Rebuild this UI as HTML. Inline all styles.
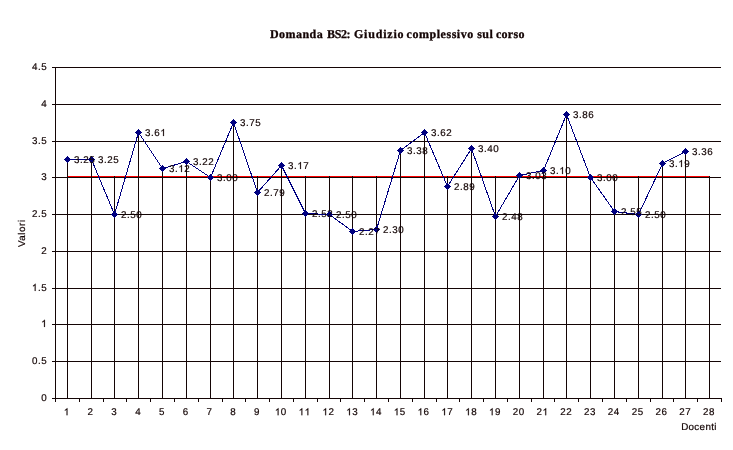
<!DOCTYPE html><html><head><meta charset="utf-8"><title>chart</title>
<style>html,body{margin:0;padding:0;background:#fff;}svg{display:block;}text{font-family:"Liberation Sans",sans-serif;text-rendering:geometricPrecision;font-size:9.8px;letter-spacing:0.55px;fill:#140505;stroke:#140505;stroke-width:0.2px;}.t{font-family:"Liberation Serif",serif;font-weight:bold;font-size:12px;stroke:#140505;stroke-width:0.3px;}</style></head><body>
<svg width="733" height="450" viewBox="0 0 733 450">
<rect width="733" height="450" fill="#fff"/>
<g shape-rendering="crispEdges" stroke="#140505" stroke-width="1" fill="none">
<line x1="52" y1="398.5" x2="721" y2="398.5"/>
<line x1="52" y1="361.5" x2="721" y2="361.5"/>
<line x1="52" y1="324.5" x2="721" y2="324.5"/>
<line x1="52" y1="288.5" x2="721" y2="288.5"/>
<line x1="52" y1="251.5" x2="721" y2="251.5"/>
<line x1="52" y1="214.5" x2="721" y2="214.5"/>
<line x1="52" y1="177.5" x2="721" y2="177.5"/>
<line x1="52" y1="141.5" x2="721" y2="141.5"/>
<line x1="52" y1="104.5" x2="721" y2="104.5"/>
<line x1="52" y1="67.5" x2="721" y2="67.5"/>
<line x1="55.5" y1="67" x2="55.5" y2="399"/>
<line x1="55.5" y1="398" x2="55.5" y2="402"/>
<line x1="79.5" y1="398" x2="79.5" y2="402"/>
<line x1="103.5" y1="398" x2="103.5" y2="402"/>
<line x1="126.5" y1="398" x2="126.5" y2="402"/>
<line x1="150.5" y1="398" x2="150.5" y2="402"/>
<line x1="174.5" y1="398" x2="174.5" y2="402"/>
<line x1="198.5" y1="398" x2="198.5" y2="402"/>
<line x1="222.5" y1="398" x2="222.5" y2="402"/>
<line x1="245.5" y1="398" x2="245.5" y2="402"/>
<line x1="269.5" y1="398" x2="269.5" y2="402"/>
<line x1="293.5" y1="398" x2="293.5" y2="402"/>
<line x1="317.5" y1="398" x2="317.5" y2="402"/>
<line x1="340.5" y1="398" x2="340.5" y2="402"/>
<line x1="364.5" y1="398" x2="364.5" y2="402"/>
<line x1="388.5" y1="398" x2="388.5" y2="402"/>
<line x1="412.5" y1="398" x2="412.5" y2="402"/>
<line x1="436.5" y1="398" x2="436.5" y2="402"/>
<line x1="459.5" y1="398" x2="459.5" y2="402"/>
<line x1="483.5" y1="398" x2="483.5" y2="402"/>
<line x1="507.5" y1="398" x2="507.5" y2="402"/>
<line x1="531.5" y1="398" x2="531.5" y2="402"/>
<line x1="554.5" y1="398" x2="554.5" y2="402"/>
<line x1="578.5" y1="398" x2="578.5" y2="402"/>
<line x1="602.5" y1="398" x2="602.5" y2="402"/>
<line x1="626.5" y1="398" x2="626.5" y2="402"/>
<line x1="650.5" y1="398" x2="650.5" y2="402"/>
<line x1="673.5" y1="398" x2="673.5" y2="402"/>
<line x1="697.5" y1="398" x2="697.5" y2="402"/>
<line x1="721.5" y1="398" x2="721.5" y2="402"/>
<line x1="67" y1="176.5" x2="710" y2="176.5" stroke="#ff0000"/>
<line x1="67.5" y1="159.5" x2="67.5" y2="398"/>
<line x1="91.5" y1="159.5" x2="91.5" y2="398"/>
<line x1="114.5" y1="176.0" x2="114.5" y2="398"/>
<line x1="138.5" y1="132.5" x2="138.5" y2="398"/>
<line x1="162.5" y1="168.5" x2="162.5" y2="398"/>
<line x1="186.5" y1="161.5" x2="186.5" y2="398"/>
<line x1="210.5" y1="176.0" x2="210.5" y2="398"/>
<line x1="233.5" y1="122.5" x2="233.5" y2="398"/>
<line x1="257.5" y1="176.0" x2="257.5" y2="398"/>
<line x1="281.5" y1="165.5" x2="281.5" y2="398"/>
<line x1="305.5" y1="176.0" x2="305.5" y2="398"/>
<line x1="329.5" y1="176.0" x2="329.5" y2="398"/>
<line x1="352.5" y1="176.0" x2="352.5" y2="398"/>
<line x1="376.5" y1="176.0" x2="376.5" y2="398"/>
<line x1="400.5" y1="150.5" x2="400.5" y2="398"/>
<line x1="424.5" y1="132.5" x2="424.5" y2="398"/>
<line x1="447.5" y1="176.0" x2="447.5" y2="398"/>
<line x1="471.5" y1="148.5" x2="471.5" y2="398"/>
<line x1="495.5" y1="176.0" x2="495.5" y2="398"/>
<line x1="519.5" y1="175.5" x2="519.5" y2="398"/>
<line x1="543.5" y1="170.5" x2="543.5" y2="398"/>
<line x1="566.5" y1="114.5" x2="566.5" y2="398"/>
<line x1="590.5" y1="176.0" x2="590.5" y2="398"/>
<line x1="614.5" y1="176.0" x2="614.5" y2="398"/>
<line x1="638.5" y1="176.0" x2="638.5" y2="398"/>
<line x1="662.5" y1="163.5" x2="662.5" y2="398"/>
<line x1="685.5" y1="151.5" x2="685.5" y2="398"/>
<line x1="709.5" y1="176.0" x2="709.5" y2="398"/>
</g>
<polyline shape-rendering="crispEdges" points="67.5,159.5 91.5,159.5 114.5,214.5 138.5,132.5 162.5,168.5 186.5,161.5 210.5,177.5 233.5,122.5 257.5,192.5 281.5,165.5 305.5,213.5 329.5,214.5 352.5,231.5 376.5,229.5 400.5,150.5 424.5,132.5 447.5,186.5 471.5,148.5 495.5,216.5 519.5,175.5 543.5,170.5 566.5,114.5 590.5,177.5 614.5,211.5 638.5,214.5 662.5,163.5 685.5,151.5" fill="none" stroke="#000080" stroke-width="1"/>
<path shape-rendering="crispEdges" d="M67.5 156.0 l3.5 3.5 l-3.5 3.5 l-3.5 -3.5 z" fill="#000080"/>
<path shape-rendering="crispEdges" d="M91.5 156.0 l3.5 3.5 l-3.5 3.5 l-3.5 -3.5 z" fill="#000080"/>
<path shape-rendering="crispEdges" d="M114.5 211.0 l3.5 3.5 l-3.5 3.5 l-3.5 -3.5 z" fill="#000080"/>
<path shape-rendering="crispEdges" d="M138.5 129.0 l3.5 3.5 l-3.5 3.5 l-3.5 -3.5 z" fill="#000080"/>
<path shape-rendering="crispEdges" d="M162.5 165.0 l3.5 3.5 l-3.5 3.5 l-3.5 -3.5 z" fill="#000080"/>
<path shape-rendering="crispEdges" d="M186.5 158.0 l3.5 3.5 l-3.5 3.5 l-3.5 -3.5 z" fill="#000080"/>
<path shape-rendering="crispEdges" d="M210.5 174.0 l3.5 3.5 l-3.5 3.5 l-3.5 -3.5 z" fill="#000080"/>
<path shape-rendering="crispEdges" d="M233.5 119.0 l3.5 3.5 l-3.5 3.5 l-3.5 -3.5 z" fill="#000080"/>
<path shape-rendering="crispEdges" d="M257.5 189.0 l3.5 3.5 l-3.5 3.5 l-3.5 -3.5 z" fill="#000080"/>
<path shape-rendering="crispEdges" d="M281.5 162.0 l3.5 3.5 l-3.5 3.5 l-3.5 -3.5 z" fill="#000080"/>
<path shape-rendering="crispEdges" d="M305.5 210.0 l3.5 3.5 l-3.5 3.5 l-3.5 -3.5 z" fill="#000080"/>
<path shape-rendering="crispEdges" d="M329.5 211.0 l3.5 3.5 l-3.5 3.5 l-3.5 -3.5 z" fill="#000080"/>
<path shape-rendering="crispEdges" d="M352.5 228.0 l3.5 3.5 l-3.5 3.5 l-3.5 -3.5 z" fill="#000080"/>
<path shape-rendering="crispEdges" d="M376.5 226.0 l3.5 3.5 l-3.5 3.5 l-3.5 -3.5 z" fill="#000080"/>
<path shape-rendering="crispEdges" d="M400.5 147.0 l3.5 3.5 l-3.5 3.5 l-3.5 -3.5 z" fill="#000080"/>
<path shape-rendering="crispEdges" d="M424.5 129.0 l3.5 3.5 l-3.5 3.5 l-3.5 -3.5 z" fill="#000080"/>
<path shape-rendering="crispEdges" d="M447.5 183.0 l3.5 3.5 l-3.5 3.5 l-3.5 -3.5 z" fill="#000080"/>
<path shape-rendering="crispEdges" d="M471.5 145.0 l3.5 3.5 l-3.5 3.5 l-3.5 -3.5 z" fill="#000080"/>
<path shape-rendering="crispEdges" d="M495.5 213.0 l3.5 3.5 l-3.5 3.5 l-3.5 -3.5 z" fill="#000080"/>
<path shape-rendering="crispEdges" d="M519.5 172.0 l3.5 3.5 l-3.5 3.5 l-3.5 -3.5 z" fill="#000080"/>
<path shape-rendering="crispEdges" d="M543.5 167.0 l3.5 3.5 l-3.5 3.5 l-3.5 -3.5 z" fill="#000080"/>
<path shape-rendering="crispEdges" d="M566.5 111.0 l3.5 3.5 l-3.5 3.5 l-3.5 -3.5 z" fill="#000080"/>
<path shape-rendering="crispEdges" d="M590.5 174.0 l3.5 3.5 l-3.5 3.5 l-3.5 -3.5 z" fill="#000080"/>
<path shape-rendering="crispEdges" d="M614.5 208.0 l3.5 3.5 l-3.5 3.5 l-3.5 -3.5 z" fill="#000080"/>
<path shape-rendering="crispEdges" d="M638.5 211.0 l3.5 3.5 l-3.5 3.5 l-3.5 -3.5 z" fill="#000080"/>
<path shape-rendering="crispEdges" d="M662.5 160.0 l3.5 3.5 l-3.5 3.5 l-3.5 -3.5 z" fill="#000080"/>
<path shape-rendering="crispEdges" d="M685.5 148.0 l3.5 3.5 l-3.5 3.5 l-3.5 -3.5 z" fill="#000080"/>
<g opacity="0.999">
<text x="74.00" y="163.0">3.25</text>
<text x="98.00" y="163.0">3.25</text>
<text x="121.00" y="218.0">2.50</text>
<text x="145.00" y="136.0">3.6</text><path transform="translate(160.27,136.0) scale(0.00479,-0.00479)" d="M763 0H583V1147Q518 1085 412.5 1023Q307 961 223 930V1104Q374 1175 487 1276Q600 1377 647 1472H763Z" fill="#140505" stroke="#140505" stroke-width="42"/>
<text x="169.00" y="172.0">3.</text><path transform="translate(178.27,172.0) scale(0.00479,-0.00479)" d="M763 0H583V1147Q518 1085 412.5 1023Q307 961 223 930V1104Q374 1175 487 1276Q600 1377 647 1472H763Z" fill="#140505" stroke="#140505" stroke-width="42"/><text x="184.27" y="172.0">2</text>
<text x="193.00" y="165.0">3.22</text>
<text x="217.00" y="181.0">3.00</text>
<text x="240.00" y="126.0">3.75</text>
<text x="264.00" y="196.0">2.79</text>
<text x="288.00" y="169.0">3.</text><path transform="translate(297.27,169.0) scale(0.00479,-0.00479)" d="M763 0H583V1147Q518 1085 412.5 1023Q307 961 223 930V1104Q374 1175 487 1276Q600 1377 647 1472H763Z" fill="#140505" stroke="#140505" stroke-width="42"/><text x="303.27" y="169.0">7</text>
<text x="312.00" y="217.0">2.52</text>
<text x="336.00" y="218.0">2.50</text>
<text x="359.00" y="235.0">2.27</text>
<text x="383.00" y="233.0">2.30</text>
<text x="407.00" y="154.0">3.38</text>
<text x="431.00" y="136.0">3.62</text>
<text x="454.00" y="190.0">2.89</text>
<text x="478.00" y="152.0">3.40</text>
<text x="502.00" y="220.0">2.48</text>
<text x="526.00" y="179.0">3.03</text>
<text x="550.00" y="174.0">3.</text><path transform="translate(559.27,174.0) scale(0.00479,-0.00479)" d="M763 0H583V1147Q518 1085 412.5 1023Q307 961 223 930V1104Q374 1175 487 1276Q600 1377 647 1472H763Z" fill="#140505" stroke="#140505" stroke-width="42"/><text x="565.27" y="174.0">0</text>
<text x="573.00" y="118.0">3.86</text>
<text x="597.00" y="181.0">3.00</text>
<text x="621.00" y="215.0">2.55</text>
<text x="645.00" y="218.0">2.50</text>
<text x="669.00" y="167.0">3.</text><path transform="translate(678.27,167.0) scale(0.00479,-0.00479)" d="M763 0H583V1147Q518 1085 412.5 1023Q307 961 223 930V1104Q374 1175 487 1276Q600 1377 647 1472H763Z" fill="#140505" stroke="#140505" stroke-width="42"/><text x="684.27" y="167.0">9</text>
<text x="692.00" y="155.0">3.36</text>
<text x="41.20" y="400.9">0</text>
<text x="31.93" y="363.9">0.5</text>
<path transform="translate(41.20,326.9) scale(0.00479,-0.00479)" d="M763 0H583V1147Q518 1085 412.5 1023Q307 961 223 930V1104Q374 1175 487 1276Q600 1377 647 1472H763Z" fill="#140505" stroke="#140505" stroke-width="42"/>
<path transform="translate(31.93,290.9) scale(0.00479,-0.00479)" d="M763 0H583V1147Q518 1085 412.5 1023Q307 961 223 930V1104Q374 1175 487 1276Q600 1377 647 1472H763Z" fill="#140505" stroke="#140505" stroke-width="42"/><text x="37.93" y="290.9">.5</text>
<text x="41.20" y="253.9">2</text>
<text x="31.93" y="216.9">2.5</text>
<text x="41.20" y="179.9">3</text>
<text x="31.93" y="143.9">3.5</text>
<text x="41.20" y="106.9">4</text>
<text x="31.93" y="69.9">4.5</text>
<path transform="translate(63.79,415.2) scale(0.00479,-0.00479)" d="M763 0H583V1147Q518 1085 412.5 1023Q307 961 223 930V1104Q374 1175 487 1276Q600 1377 647 1472H763Z" fill="#140505" stroke="#140505" stroke-width="42"/>
<text x="87.58" y="415.2">2</text>
<text x="111.36" y="415.2">3</text>
<text x="135.15" y="415.2">4</text>
<text x="158.94" y="415.2">5</text>
<text x="182.72" y="415.2">6</text>
<text x="206.51" y="415.2">7</text>
<text x="230.29" y="415.2">8</text>
<text x="254.08" y="415.2">9</text>
<path transform="translate(274.87,415.2) scale(0.00479,-0.00479)" d="M763 0H583V1147Q518 1085 412.5 1023Q307 961 223 930V1104Q374 1175 487 1276Q600 1377 647 1472H763Z" fill="#140505" stroke="#140505" stroke-width="42"/><text x="280.86" y="415.2">0</text>
<path transform="translate(298.65,415.2) scale(0.00479,-0.00479)" d="M763 0H583V1147Q518 1085 412.5 1023Q307 961 223 930V1104Q374 1175 487 1276Q600 1377 647 1472H763Z" fill="#140505" stroke="#140505" stroke-width="42"/><path transform="translate(304.65,415.2) scale(0.00479,-0.00479)" d="M763 0H583V1147Q518 1085 412.5 1023Q307 961 223 930V1104Q374 1175 487 1276Q600 1377 647 1472H763Z" fill="#140505" stroke="#140505" stroke-width="42"/>
<path transform="translate(322.44,415.2) scale(0.00479,-0.00479)" d="M763 0H583V1147Q518 1085 412.5 1023Q307 961 223 930V1104Q374 1175 487 1276Q600 1377 647 1472H763Z" fill="#140505" stroke="#140505" stroke-width="42"/><text x="328.44" y="415.2">2</text>
<path transform="translate(346.22,415.2) scale(0.00479,-0.00479)" d="M763 0H583V1147Q518 1085 412.5 1023Q307 961 223 930V1104Q374 1175 487 1276Q600 1377 647 1472H763Z" fill="#140505" stroke="#140505" stroke-width="42"/><text x="352.22" y="415.2">3</text>
<path transform="translate(370.01,415.2) scale(0.00479,-0.00479)" d="M763 0H583V1147Q518 1085 412.5 1023Q307 961 223 930V1104Q374 1175 487 1276Q600 1377 647 1472H763Z" fill="#140505" stroke="#140505" stroke-width="42"/><text x="376.01" y="415.2">4</text>
<path transform="translate(393.79,415.2) scale(0.00479,-0.00479)" d="M763 0H583V1147Q518 1085 412.5 1023Q307 961 223 930V1104Q374 1175 487 1276Q600 1377 647 1472H763Z" fill="#140505" stroke="#140505" stroke-width="42"/><text x="399.79" y="415.2">5</text>
<path transform="translate(417.58,415.2) scale(0.00479,-0.00479)" d="M763 0H583V1147Q518 1085 412.5 1023Q307 961 223 930V1104Q374 1175 487 1276Q600 1377 647 1472H763Z" fill="#140505" stroke="#140505" stroke-width="42"/><text x="423.58" y="415.2">6</text>
<path transform="translate(441.37,415.2) scale(0.00479,-0.00479)" d="M763 0H583V1147Q518 1085 412.5 1023Q307 961 223 930V1104Q374 1175 487 1276Q600 1377 647 1472H763Z" fill="#140505" stroke="#140505" stroke-width="42"/><text x="447.36" y="415.2">7</text>
<path transform="translate(465.15,415.2) scale(0.00479,-0.00479)" d="M763 0H583V1147Q518 1085 412.5 1023Q307 961 223 930V1104Q374 1175 487 1276Q600 1377 647 1472H763Z" fill="#140505" stroke="#140505" stroke-width="42"/><text x="471.15" y="415.2">8</text>
<path transform="translate(488.94,415.2) scale(0.00479,-0.00479)" d="M763 0H583V1147Q518 1085 412.5 1023Q307 961 223 930V1104Q374 1175 487 1276Q600 1377 647 1472H763Z" fill="#140505" stroke="#140505" stroke-width="42"/><text x="494.94" y="415.2">9</text>
<text x="512.72" y="415.2">20</text>
<text x="536.51" y="415.2">2</text><path transform="translate(542.51,415.2) scale(0.00479,-0.00479)" d="M763 0H583V1147Q518 1085 412.5 1023Q307 961 223 930V1104Q374 1175 487 1276Q600 1377 647 1472H763Z" fill="#140505" stroke="#140505" stroke-width="42"/>
<text x="560.29" y="415.2">22</text>
<text x="584.08" y="415.2">23</text>
<text x="607.87" y="415.2">24</text>
<text x="631.65" y="415.2">25</text>
<text x="655.44" y="415.2">26</text>
<text x="679.22" y="415.2">27</text>
<text x="703.01" y="415.2">28</text>
<text x="681.2" y="429.6" style="letter-spacing:0.33px">Docenti</text>
<text transform="translate(24.9,233.2) rotate(-90)" text-anchor="middle">Valori</text>
<text class="t" x="269.9" y="38" style="letter-spacing:0.47px">Domanda</text>
<text class="t" x="327.1" y="38" style="letter-spacing:-0.43px">BS2:</text>
<text class="t" x="354.0" y="38" style="letter-spacing:0.79px">Giudizio</text>
<text class="t" x="406.6" y="38" style="letter-spacing:0.53px">complessivo</text>
<text class="t" x="477.2" y="38" style="letter-spacing:0.50px">sul</text>
<text class="t" x="495.9" y="38" style="letter-spacing:0.30px">corso</text>
</g>
</svg></body></html>
